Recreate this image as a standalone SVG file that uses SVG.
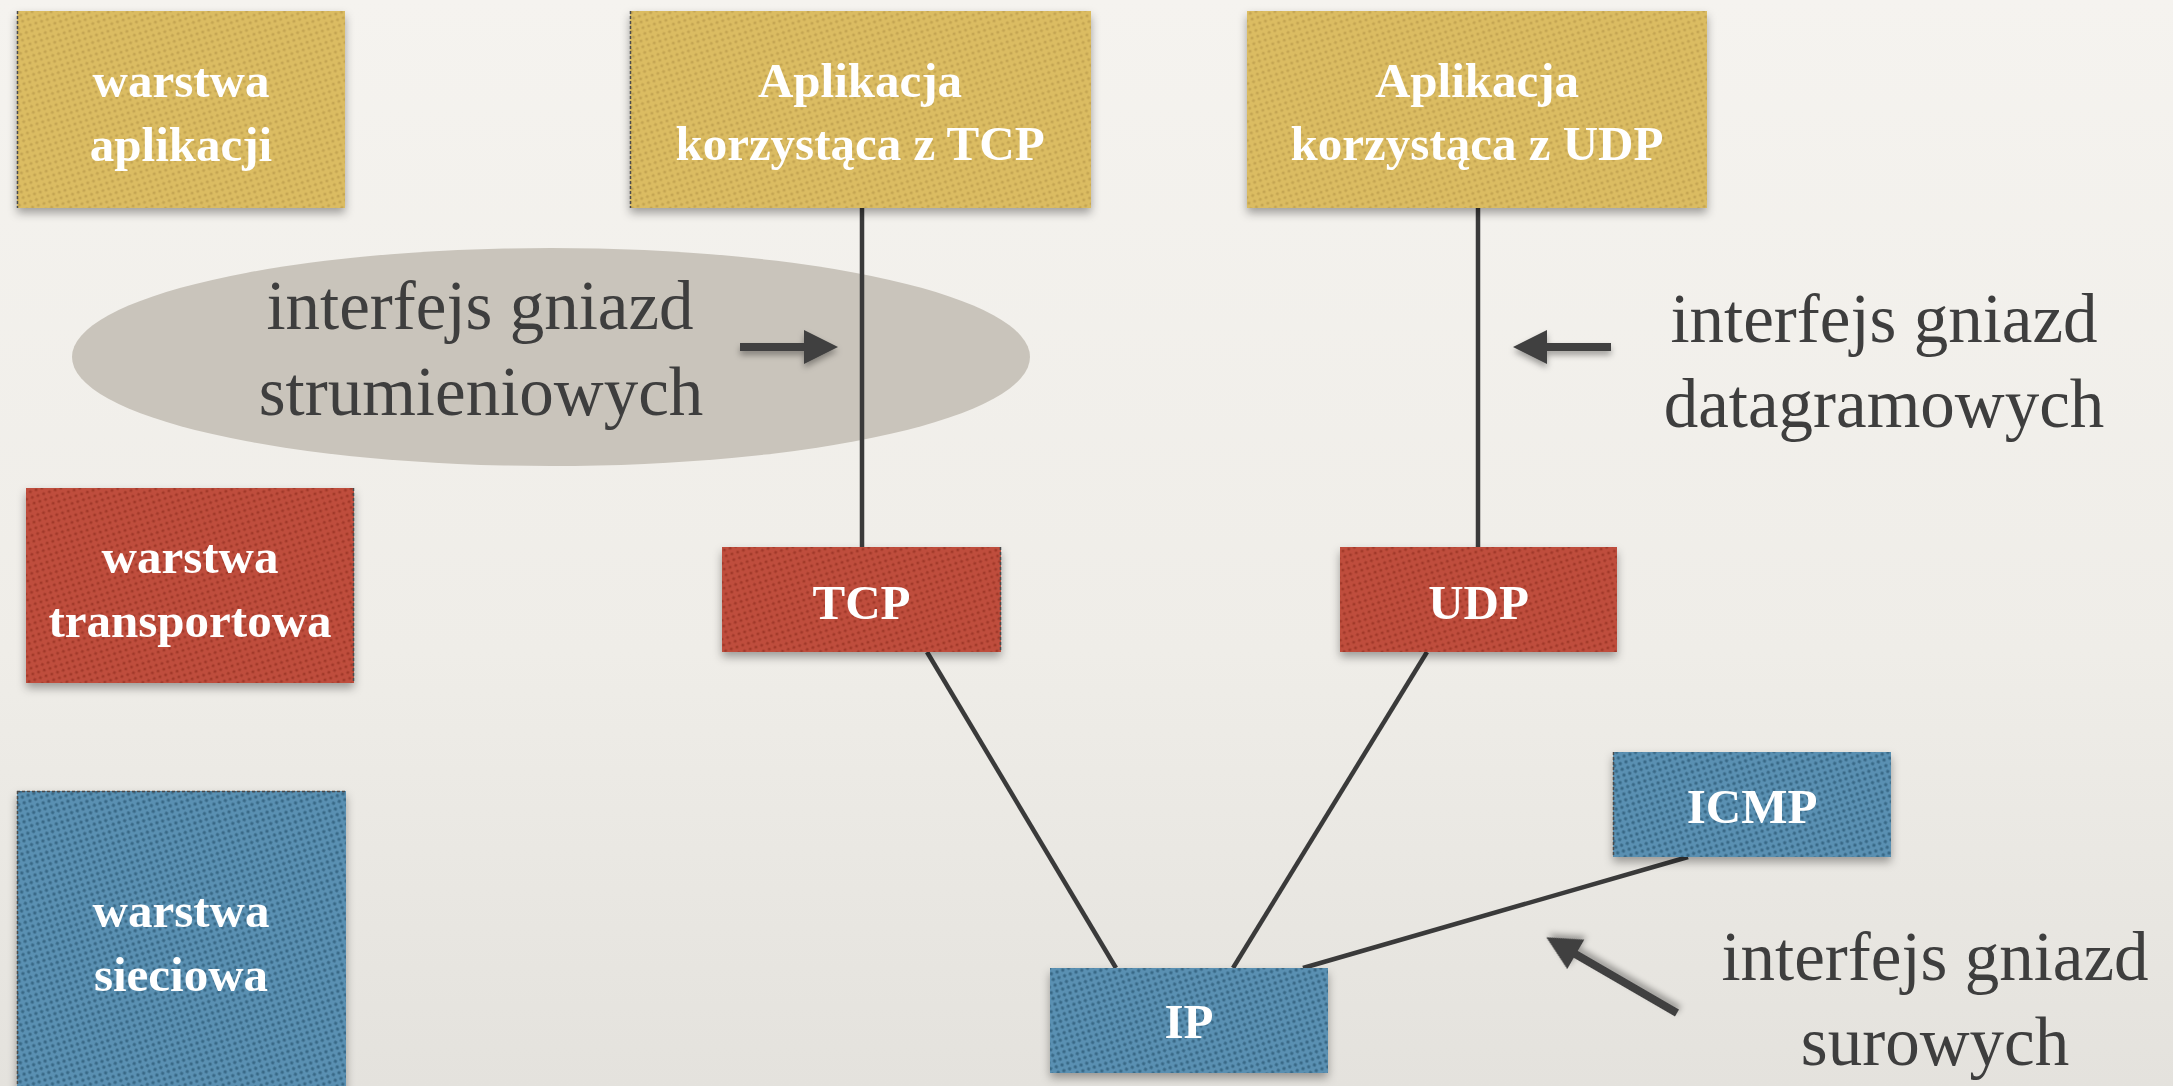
<svg xmlns="http://www.w3.org/2000/svg" width="2173" height="1086" viewBox="0 0 2173 1086">
  <defs>
    <linearGradient id="bg" x1="0" y1="0" x2="0" y2="1">
      <stop offset="0" stop-color="#f5f3ef"/>
      <stop offset="0.6" stop-color="#efede8"/>
      <stop offset="1" stop-color="#e4e2dd"/>
    </linearGradient>
    <pattern id="pY" width="6" height="6" patternUnits="userSpaceOnUse" patternTransform="rotate(-18)">
      <rect width="6" height="6" fill="#dbbc62"/>
      <circle cx="3" cy="3" r="1.6" fill="#c4a552"/>
    </pattern>
    <pattern id="pR" width="6" height="6" patternUnits="userSpaceOnUse" patternTransform="rotate(-18)">
      <rect width="6" height="6" fill="#bf4e3c"/>
      <circle cx="3" cy="3" r="1.6" fill="#a2392b"/>
    </pattern>
    <pattern id="pB" width="6" height="6" patternUnits="userSpaceOnUse" patternTransform="rotate(-18)">
      <rect width="6" height="6" fill="#5a90b2"/>
      <circle cx="3" cy="3" r="1.7" fill="#386886"/>
    </pattern>
    <filter id="sh" x="-10%" y="-10%" width="125%" height="135%">
      <feDropShadow dx="0" dy="5" stdDeviation="5" flood-color="#000" flood-opacity="0.35"/>
    </filter>
    <filter id="ash" x="-20%" y="-30%" width="150%" height="180%">
      <feDropShadow dx="0" dy="4" stdDeviation="3" flood-color="#000" flood-opacity="0.35"/>
    </filter>
  </defs>
  <style>
    .y { fill: url(#pY); filter: url(#sh); }
    .r { fill: url(#pR); filter: url(#sh); }
    .b { fill: url(#pB); filter: url(#sh); }
    .edge { stroke: #4a4a4a; stroke-width: 1.5; stroke-dasharray: 3 2; fill: none; }
    .lbl { font-family: "Liberation Serif", "DejaVu Serif", serif; font-weight: bold; font-size: 49px; fill: #ffffff; text-anchor: middle; }
    .note { font-family: "Liberation Serif", "DejaVu Serif", serif; font-size: 69px; fill: #3e3e3e; text-anchor: middle; }
    .conn { stroke: #3a3a3a; stroke-width: 4.5; fill: none; }
    .arrow { fill: #3f3f3f; filter: url(#ash); }
  </style>
  <rect width="2173" height="1086" fill="url(#bg)"/>

  <ellipse id="stream-bubble" cx="551" cy="357" rx="479" ry="109" fill="#c9c4bb"/>

  <g id="connectors">
    <line class="conn" x1="862" y1="208" x2="862" y2="547"/>
    <line class="conn" x1="1478" y1="208" x2="1478" y2="547"/>
    <line class="conn" x1="927" y1="652" x2="1116" y2="968"/>
    <line class="conn" x1="1427" y1="652" x2="1233" y2="968"/>
    <line class="conn" x1="1688" y1="857" x2="1303" y2="968" stroke-width="5.5"/>
  </g>

  <g id="layer-app">
    <rect class="y" x="17" y="11" width="328" height="197"/>
    <line class="edge" x1="17.5" y1="11" x2="17.5" y2="208"/>
    <text class="lbl" x="181" y="97">warstwa</text>
    <text class="lbl" x="181" y="161">aplikacji</text>
  </g>
  <g id="app-tcp">
    <rect class="y" x="630" y="11" width="461" height="197"/>
    <line class="edge" x1="630.5" y1="11" x2="630.5" y2="208"/>
    <text class="lbl" x="860" y="97">Aplikacja</text>
    <text class="lbl" x="860" y="160">korzystąca z TCP</text>
  </g>
  <g id="app-udp">
    <rect class="y" x="1247" y="11" width="460" height="197"/>
    <text class="lbl" x="1477" y="97">Aplikacja</text>
    <text class="lbl" x="1477" y="160">korzystąca z UDP</text>
  </g>
  <g id="layer-transport">
    <rect class="r" x="26" y="488" width="328" height="195"/>
    <line class="edge" x1="353.5" y1="488" x2="353.5" y2="683"/>
    <text class="lbl" x="190" y="573">warstwa</text>
    <text class="lbl" x="190" y="637">transportowa</text>
  </g>
  <g id="layer-network">
    <rect class="b" x="17" y="791" width="329" height="310"/>
    <line class="edge" x1="17.5" y1="791" x2="17.5" y2="1086"/>
    <line class="edge" x1="17" y1="791.5" x2="346" y2="791.5"/>
    <text class="lbl" x="181" y="927">warstwa</text>
    <text class="lbl" x="181" y="991">sieciowa</text>
  </g>
  <g id="tcp">
    <rect class="r" x="722" y="547" width="279" height="105"/>
    <line class="edge" x1="1000.5" y1="547" x2="1000.5" y2="652"/>
    <text class="lbl" x="861.5" y="619">TCP</text>
  </g>
  <g id="udp">
    <rect class="r" x="1340" y="547" width="277" height="105"/>
    <text class="lbl" x="1478.5" y="619">UDP</text>
  </g>
  <g id="icmp">
    <rect class="b" x="1613" y="752" width="278" height="105"/>
    <line class="edge" x1="1613.5" y1="752" x2="1613.5" y2="857"/>
    <text class="lbl" x="1752" y="823">ICMP</text>
  </g>
  <g id="ip">
    <rect class="b" x="1050" y="968" width="278" height="105"/>
    <text class="lbl" x="1189" y="1038">IP</text>
  </g>

  <g id="note-stream">
    <text class="note" x="480" y="329">interfejs gniazd</text>
    <text class="note" x="481" y="415">strumieniowych</text>
    <path class="arrow" d="M740,343 L804,343 L804,330 L838,347 L804,364 L804,351 L740,351 Z"/>
  </g>
  <g id="note-datagram">
    <text class="note" x="1884" y="342">interfejs gniazd</text>
    <text class="note" x="1884" y="427">datagramowych</text>
    <path class="arrow" d="M1611,343 L1547,343 L1547,330 L1513,347 L1547,364 L1547,351 L1611,351 Z"/>
  </g>
  <g id="note-raw">
    <text class="note" x="1935" y="980">interfejs gniazd</text>
    <text class="note" x="1935" y="1065">surowych</text>
    <path class="arrow" transform="translate(1677,1013) rotate(210.1)" d="M0,-4 L117,-4 L117,-17 L151,0 L117,17 L117,4 L0,4 Z"/>
  </g>
</svg>
